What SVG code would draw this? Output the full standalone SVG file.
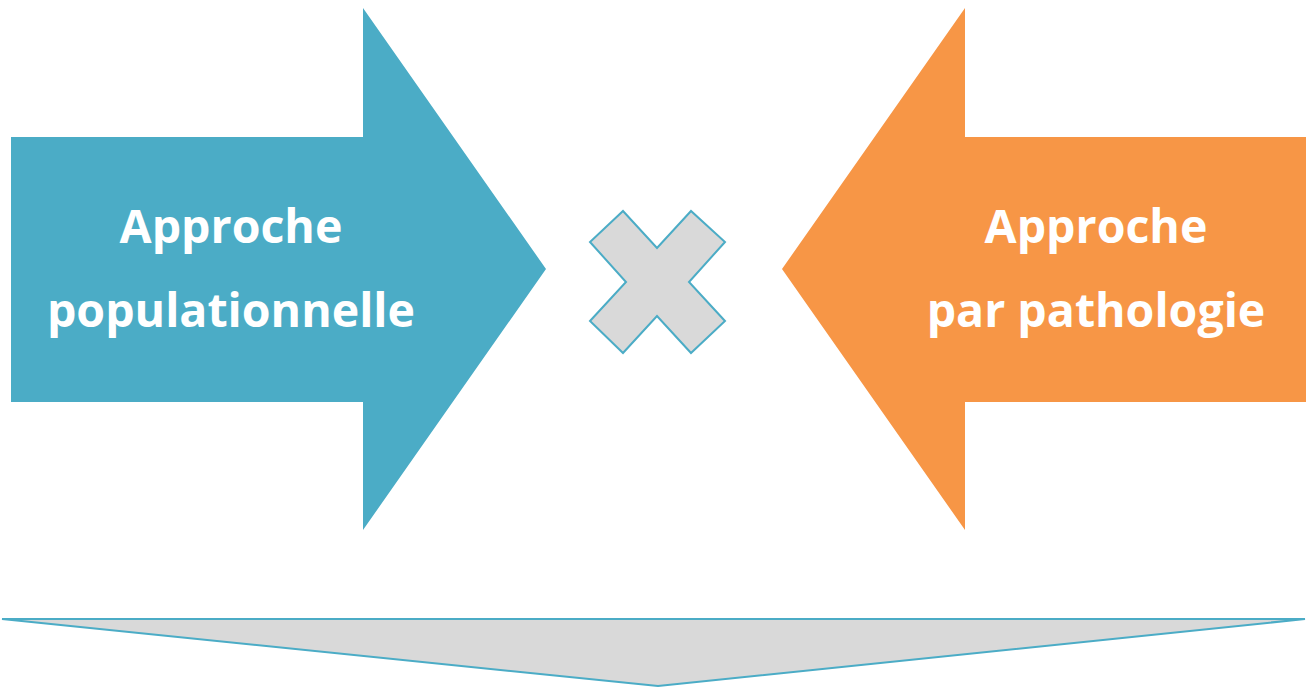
<svg xmlns="http://www.w3.org/2000/svg" width="1306" height="688" viewBox="0 0 1306 688">
<style>
.lbl{font-family:"Open Sans","Liberation Sans",sans-serif;font-weight:bold;font-size:46.5px;fill:#FFFFFF;text-anchor:middle}
.outl{fill:#D9D9D9;stroke:#4BACC6;stroke-width:2;stroke-linejoin:miter}
</style>
<rect width="1306" height="688" fill="#FFFFFF"/>
<g id="left-arrow">
<polygon points="11,137 363,137 363,8 546,269 363,530 363,402 11,402" fill="#4BACC6"/>
<text class="lbl" x="231" y="243">Approche</text>
<text class="lbl" x="231" y="327">populationnelle</text>
</g>
<g id="right-arrow">
<polygon points="1306,137 965,137 965,8 782,269 965,530 965,402 1306,402" fill="#F79646"/>
<text class="lbl" x="1096" y="243">Approche</text>
<text class="lbl" x="1096" y="327">par pathologie</text>
</g>
<g id="cross">
<polygon class="outl" points="623,211 657,248 691,211 725,242 689,282 725,321 691,353 657,316 623,353 590,321 626,282 590,242"/>
</g>
<g id="connectors">
<polygon class="outl" points="2,619 1305,619 658,686"/>
</g>
</svg>
